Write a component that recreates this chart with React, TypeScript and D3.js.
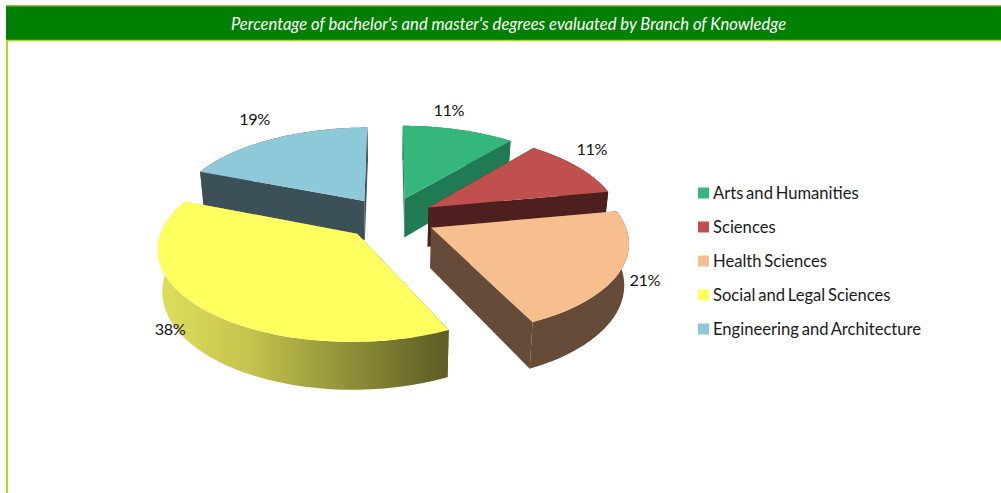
import React from 'react'
import * as d3 from 'd3'

const title = "Percentage of bachelor's and master's degrees evaluated by Branch of Knowledge"
const branches = ['Arts and Humanities', 'Sciences', 'Health Sciences', 'Social and Legal Sciences', 'Engineering and Architecture']
const shares = [11, 11, 21, 38, 19]
const topColors = ['#35b67a', '#c0504d', '#f6bf8d', '#ffff5f', '#8ec9da']
const sideColors = ['#207a54', '#4d1f1e', '#654b38', 'url(#socialSide)', '#3c5058']

// pie "camera": worked out from the slice corners in the picture
const CX = 389.5
const CY = 218
const R = 192
const EXPLODE = 46
const TILT = 0.459
const PERSP = 0.14
const DEPTH = 40

const project = (X: number, Y: number, z: number): [number, number] => {
  const s = 1 / (1 + (PERSP * Y) / R)
  return [CX + X * s * (1 - 0.02 * z), CY - TILT * Y * s + DEPTH * z * s]
}

const pieGen = d3.pie<number>().sort(null).value(d => d)
const slices = pieGen(shares)
const toPath = d3.line()
const legendY = d3.scalePoint<string>().domain(branches).range([193, 329])

// nudges from the outer middle of each slice to where its label sits
const labelNudge: [number, number][] = [[-10, -18], [14, -16], [25, 10], [-33, 22], [-18, -18]]

const App = () => {
  const pieces = slices.map((slice, i) => {
    const mid = (slice.startAngle + slice.endAngle) / 2
    const ox = Math.sin(mid) * EXPLODE
    const oy = Math.cos(mid) * EXPLODE
    const steps = d3.range(41).map(k => slice.startAngle + ((slice.endAngle - slice.startAngle) * k) / 40)
    const rim = (z: number) => steps.map(a => project(ox + Math.sin(a) * R, oy + Math.cos(a) * R, z))
    const apexTop = project(ox, oy, 0)
    const apexBottom = project(ox, oy, 1)
    const rimTop = rim(0)
    const rimBottom = rim(1)
    const walls = [
      [apexTop, rimTop[0], rimBottom[0], apexBottom],
      [apexTop, rimTop[40], rimBottom[40], apexBottom],
      [...rimTop, ...[...rimBottom].reverse()],
    ]
    const labelAt = project(ox + Math.sin(mid) * R, oy + Math.cos(mid) * R, 0)
    return {
      i,
      walls: walls.map(w => (toPath(w) as string) + 'Z'),
      top: (toPath([apexTop, ...rimTop]) as string) + 'Z',
      label: [labelAt[0] + labelNudge[i][0], labelAt[1] + labelNudge[i][1]],
    }
  })
  // back to front
  const order = [0, 4, 1, 2, 3]

  return (
    <svg
      width={1001}
      height={493}
      style={{ position: 'absolute', left: 0, top: 0, background: '#fff', fontFamily: 'Lato' }}
    >
      <defs>
        <linearGradient id="socialSide" gradientUnits="userSpaceOnUse" x1={165} x2={441} y1={0} y2={0}>
          <stop offset="0" stopColor="#dcdc5c" />
          <stop offset="0.3" stopColor="#c4c44e" />
          <stop offset="1" stopColor="#5f5f26" />
        </linearGradient>
      </defs>

      <rect x={6} y={6} width={995} height={35} fill="#008000" />
      <line x1={6} x2={1001} y1={6} y2={6} stroke="#6f9f10" strokeWidth={1.5} />
      <line x1={6} x2={1001} y1={40.5} y2={40.5} stroke="#a4d81e" strokeWidth={1.5} />
      <line x1={7} x2={7} y1={41} y2={493} stroke="#aadc20" strokeWidth={2} />
      <text x={508.5} y={30} textAnchor="middle" fill="#fff" fontStyle="italic" fontSize={16.6}>{title}</text>

      {order.map(idx => {
        const p = pieces[idx]
        return (
          <g key={branches[idx]}>
            {p.walls.map((d, w) => <path key={w} d={d} fill={sideColors[idx]} />)}
            <path d={p.top} fill={topColors[idx]} />
          </g>
        )
      })}

      {pieces.map(p => (
        <text key={p.i} x={p.label[0]} y={p.label[1]} textAnchor="middle" dominantBaseline="middle" fontSize={16.2} fill="#111" letterSpacing={-0.4}>
          {shares[p.i]}%
        </text>
      ))}

      {branches.map((b, i) => (
        <g key={b}>
          <rect x={698} y={(legendY(b) as number) - 5.5} width={11} height={11} fill={topColors[i]} />
          <text x={713} y={(legendY(b) as number) + 6} fontSize={16.6} fill="#1a1a1a" wordSpacing={-1.5}>{b}</text>
        </g>
      ))}
    </svg>
  )
}

export default App
